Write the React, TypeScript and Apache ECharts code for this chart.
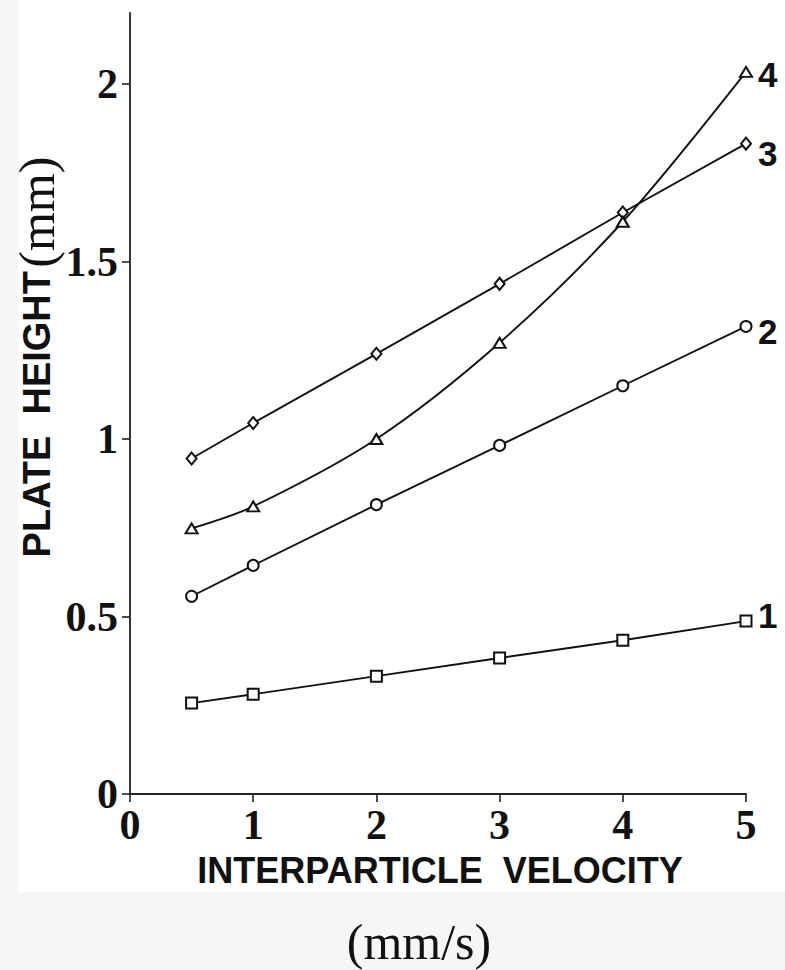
import React, { useEffect, useRef } from "react";
import * as echarts from "echarts";

const velocity = [0.5, 1, 2, 3, 4, 5];
const curve1 = [0.256, 0.281, 0.332, 0.383, 0.433, 0.487];
const curve2 = [0.557, 0.644, 0.815, 0.982, 1.15, 1.317];
const curve3 = [0.945, 1.045, 1.24, 1.437, 1.638, 1.832];
const curve4 = [0.748, 0.81, 1.0, 1.271, 1.612, 2.034];
const yTicks = [0, 0.5, 1, 1.5, 2];
const xTicks = [0, 1, 2, 3, 4, 5];
const curveNames = ["1", "2", "3", "4"];

const SANS = '"Liberation Sans", Arial, sans-serif';
const SERIF = '"Liberation Serif", "Times New Roman", serif';

export default function App() {
  const ref = useRef<HTMLDivElement>(null);
  useEffect(() => {
    document.body.style.margin = "0";
    const chart = echarts.init(ref.current!, null, { renderer: "svg" });
    const pairs = (ys: number[]) => velocity.map((v, i) => [v, ys[i]]);
    const mkSeries = (
      name: string,
      ys: number[],
      symbol: string,
      size: number | number[],
      smooth: boolean | number,
      dy: number
    ) => ({
      type: "line",
      name,
      data: pairs(ys),
      symbol,
      symbolSize: size,
      smooth,
      showAllSymbol: true,
      lineStyle: { color: "#111", width: 1.9 },
      itemStyle: { color: "#111", borderColor: "#111", borderWidth: 1.5 },
      emphasis: { disabled: true },
      endLabel: {
        show: true,
        formatter: name,
        distance: 12,
        offset: [0, dy],
        color: "#111",
        fontFamily: SANS,
        fontWeight: "bold",
        fontSize: 35,
      },
      z: 3,
    });
    chart.setOption({
      animation: false,
      backgroundColor: "#fff",
      grid: { left: 130, right: 39, top: 13, bottom: 176, containLabel: false },
      xAxis: {
        type: "value",
        min: 0,
        max: 5,
        interval: 1,
        axisLine: { show: true, lineStyle: { color: "#222", width: 1.8 } },
        axisTick: { show: true, length: 8, lineStyle: { color: "#222", width: 1.6 }, customValues: xTicks },
        axisLabel: {
          customValues: xTicks,
          margin: 10,
          color: "#111",
          fontFamily: SERIF,
          fontWeight: "bold",
          fontSize: 42,
        },
        splitLine: { show: false },
      },
      yAxis: {
        type: "value",
        min: 0,
        max: 2.2,
        interval: 0.5,
        axisLine: { show: true, lineStyle: { color: "#222", width: 1.8 } },
        axisTick: { show: true, length: 8, lineStyle: { color: "#222", width: 1.6 }, customValues: yTicks },
        axisLabel: {
          customValues: yTicks,
          margin: 12,
          color: "#111",
          fontFamily: SERIF,
          fontWeight: "bold",
          fontSize: 42,
        },
        splitLine: { show: false },
      },
      graphic: [
        { type: "rect", shape: { x: 0, y: 0, width: 18, height: 970 }, style: { fill: "#f6f6f6" }, z: -10 },
        { type: "rect", shape: { x: 0, y: 892, width: 785, height: 78 }, style: { fill: "#f6f6f6" }, z: -10 },
        {
          type: "text",
          x: 37,
          y: 357,
          rotation: Math.PI / 2,
          style: {
            text: "{a|PLATE  HEIGHT} {b|(mm)}",
            align: "center",
            verticalAlign: "middle",
            fill: "#111",
            rich: {
              a: { fontFamily: SANS, fontWeight: "bold", fontSize: 38, fill: "#111" },
              b: { fontFamily: SERIF, fontSize: 50, fill: "#111" },
            },
          },
        },
        {
          type: "text",
          x: 440,
          y: 870,
          style: {
            text: "INTERPARTICLE  VELOCITY",
            align: "center",
            verticalAlign: "middle",
            fill: "#111",
            fontFamily: SANS,
            fontWeight: "bold",
            fontSize: 36,
          },
        },
        {
          type: "text",
          x: 419,
          y: 942,
          style: {
            text: "(mm/s)",
            align: "center",
            verticalAlign: "middle",
            fill: "#111",
            fontFamily: SERIF,
            fontSize: 50,
          },
        },
      ],
      series: [
        mkSeries(curveNames[0], curve1, "emptyRect", 11, false, -6),
        mkSeries(curveNames[1], curve2, "emptyCircle", 11, false, 5),
        mkSeries(curveNames[2], curve3, "emptyDiamond", [10, 12], false, 10),
        mkSeries(curveNames[3], curve4, "emptyTriangle", [12, 10], 0.3, 3),
      ],
    });
    return () => chart.dispose();
  }, []);
  return <div ref={ref} style={{ width: 785, height: 970 }} />;
}
